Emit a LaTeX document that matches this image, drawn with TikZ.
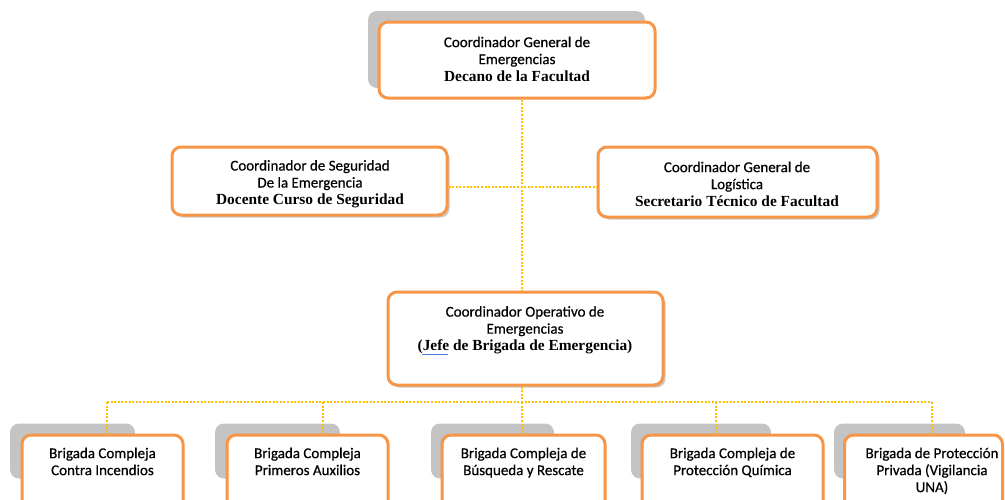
\documentclass[tikz,border=0pt]{standalone}
\usepackage{fontspec}
\setmainfont{Carlito}[UprightFeatures={FakeBold=0.5}]
\newfontfamily\bser{Liberation Serif}
\usetikzlibrary{shadows}
\definecolor{boxorange}{HTML}{F79646}
\definecolor{shadegray}{HTML}{C4C4C4}
\definecolor{dotgold}{HTML}{FFC000}
\definecolor{spellblue}{HTML}{4A7FE0}
\newcommand{\bl}[1]{{\bser\bfseries\fontsize{15.4}{17}\selectfont #1}}
\begin{document}
\begin{tikzpicture}[x=1pt,y=-1pt,
  orgbox/.style={draw=boxorange, line width=3pt, rounded corners=9pt, fill=white, inner sep=0pt},
  smallshadow/.style={drop shadow={shadow xshift=2.5pt, shadow yshift=-2.5pt, fill=black!35, opacity=.6}},
  backbox/.style={fill=shadegray, rounded corners=9pt, inner sep=0pt},
  conn/.style={draw=dotgold, line width=2pt, dash pattern=on 2pt off 1.6pt},
  lbl/.style={align=center, inner sep=0pt, font=\fontsize{15}{17}\selectfont}]
\useasboundingbox (0,0) rectangle (1005,499);
\clip (0,0) rectangle (1005,499);
\fill[white] (0,0) rectangle (1005,499);

% gray back boxes
\node[backbox, minimum width=277pt, minimum height=77pt] (g0) at (506.5,49.5) {};
\node[backbox, minimum width=125pt, minimum height=55pt] (g1) at (72.5,451) {};
\node[backbox, minimum width=125pt, minimum height=55pt] (g2) at (277.5,451) {};
\node[backbox, minimum width=123pt, minimum height=55pt] (g3) at (492.5,451) {};
\node[backbox, minimum width=140pt, minimum height=55pt] (g4) at (701,451) {};
\node[backbox, minimum width=131pt, minimum height=55pt] (g5) at (899.5,451) {};

% connector junctions
\coordinate (jx) at (522,187);
\coordinate (d1) at (107,402);
\coordinate (d2) at (323,402);
\coordinate (d3) at (522,402);
\coordinate (d4) at (716,402);
\coordinate (d5) at (932,402);

% boxes
\node[orgbox, minimum width=276pt, minimum height=76pt] (top) at (517,60) {};
\node[orgbox, smallshadow, minimum width=275pt, minimum height=68pt] (ml) at (309.5,181) {};
\node[orgbox, smallshadow, minimum width=279pt, minimum height=70pt] (mr) at (737.5,182) {};
\node[orgbox, smallshadow, minimum width=275pt, minimum height=93pt] (op) at (525.5,338.5) {};
\node[orgbox, minimum width=161pt, minimum height=110pt] (b1) at (102.5,490) {};
\node[orgbox, minimum width=161pt, minimum height=110pt] (b2) at (307.5,490) {};
\node[orgbox, minimum width=163pt, minimum height=110pt] (b3) at (523.5,490) {};
\node[orgbox, minimum width=181pt, minimum height=110pt] (b4) at (732.5,490) {};
\node[orgbox, minimum width=158pt, minimum height=110pt] (b5) at (923.5,490) {};

% connectors
\draw[conn] (top.south -| jx) -- (op.north -| jx);
\draw[conn] (ml.east |- jx) -- (mr.west |- jx);
\draw[conn] (op.south -| d3) -- (d3);
\draw[conn] (d1) -- (d5);
\foreach \d/\b in {d1/b1,d2/b2,d3/b3,d4/b4,d5/b5}{
  \draw[conn] (\d) -- (\d |- \b.north);
}

% texts
\node[lbl] (t0) at (517,59) {Coordinador General de\\Emergencias\\\bl{Decano de la Facultad}};
\node[lbl] (tml) at (310,184) {Coordinador de Seguridad\\De la Emergencia\\\bl{Docente Curso de Seguridad}};
\node[lbl] (tmr) at (737,184) {Coordinador General de\\Log\'istica\\\bl{Secretario T\'ecnico de Facultad}};
\node[lbl, anchor=north] (top2) at (525,306) {Coordinador Operativo de\\Emergencias\\\bl{(Jefe de Brigada de Emergencia)}};
\node[lbl, anchor=north] (tb1) at (102.5,447.5) {Brigada Compleja\\Contra Incendios};
\node[lbl, anchor=north] (tb2) at (307.5,447.5) {Brigada Compleja\\Primeros Auxilios};
\node[lbl, anchor=north] (tb3) at (523.5,447.5) {Brigada Compleja de\\B\'usqueda y Rescate};
\node[lbl, anchor=north] (tb4) at (732.5,447.5) {Brigada Compleja de\\Protecci\'on Qu\'imica};
\node[lbl, anchor=north] (tb5) at (932,447.5) {Brigada de Protecci\'on\\Privada (Vigilancia\\UNA)};

% spell-check underline under "Jefe"
\draw[spellblue, line width=1pt] (422,354) -- (448,354);
\end{tikzpicture}
\end{document}
